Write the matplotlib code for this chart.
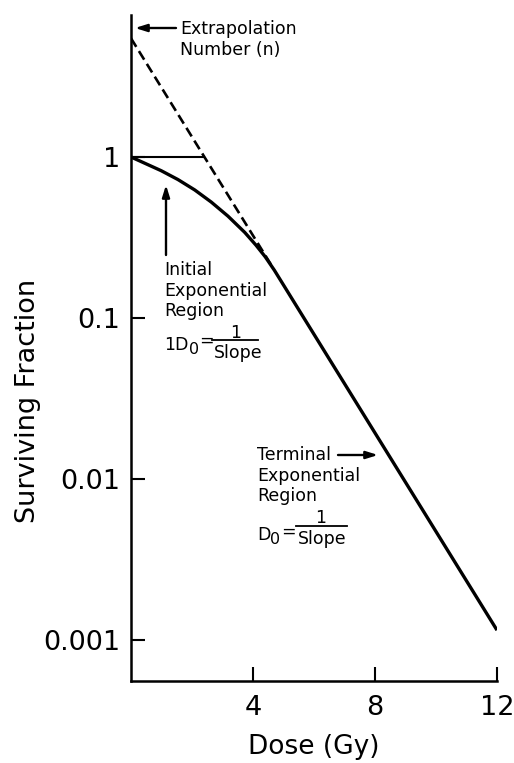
import matplotlib.pyplot as plt
from matplotlib.ticker import FixedLocator, NullLocator

W, H = 514, 763

# survival curve (dose in Gy, surviving fraction)
dose = [0, 0.56, 0.99, 1.54, 2.09, 2.63, 3.18, 3.73, 4.1, 4.4, 4.7, 12]
surv = [1.0, 0.895, 0.822, 0.724, 0.624, 0.525, 0.429, 0.340, 0.283, 0.240, 0.198, 0.00115]

# terminal slope extrapolated back to zero dose, and the n marker at S=1
extrap_dose = [0, 4.6]
extrap_surv = [5.46, 0.213]
n_dose = [0, 2.4]
n_surv = [1, 1]

xticks = [4, 8, 12]
yticks = [1, 0.1, 0.01, 0.001]
ytick_labels = ['1', '0.1', '0.01', '0.001']


def fp(x, y):
    # image pixel (from top-left) -> figure fraction
    return x / W, 1 - y / H


def fpx(x, y):
    # image pixel -> figure pixels
    return x, H - y


fig = plt.figure(figsize=(W / 100, H / 100), dpi=100)
ax = fig.add_axes([131 / W, 82 / H, 366 / W, 666 / H])

ax.plot(dose, surv, color='black', lw=2.4, solid_capstyle='butt')
ax.plot(extrap_dose, extrap_surv, color='black', lw=1.9, linestyle=(0, (3.8, 1.9)))
ax.plot(n_dose, n_surv, color='black', lw=1.5)

ax.set_yscale('log')
ax.set_xlim(0, 12)
ax.set_ylim(10 ** -3.255, 10 ** 0.882)

ax.xaxis.set_major_locator(FixedLocator(xticks))
ax.yaxis.set_major_locator(FixedLocator(yticks))
ax.yaxis.set_minor_locator(NullLocator())
ax.set_xticklabels([str(t) for t in xticks])
ax.set_yticklabels(ytick_labels)
ax.tick_params(axis='both', direction='in', length=10, width=1.5, labelsize=19.5, color='black')
ax.tick_params(axis='x', pad=10)
ax.tick_params(axis='y', pad=8)

for side in ['top', 'right']:
    ax.spines[side].set_visible(False)
for side in ['left', 'bottom']:
    ax.spines[side].set_linewidth(1.8)

fig.text(*fp(314, 754), 'Dose (Gy)', ha='center', va='baseline', fontsize=19)
fig.text(*fp(28, 401), 'Surviving Fraction', ha='center', va='center', rotation=90, fontsize=19.5)

fs = 12.5
arrow = dict(arrowstyle='-|>,head_length=0.7,head_width=0.22', lw=1.7, color='black',
             shrinkA=0, shrinkB=0)

# extrapolation number
fig.text(*fp(180, 34), 'Extrapolation', fontsize=fs, va='baseline')
fig.text(*fp(180, 55), 'Number (n)', fontsize=fs, va='baseline')
ax.annotate('', xy=fpx(135, 28), xytext=fpx(176, 28), xycoords='figure pixels',
            textcoords='figure pixels', arrowprops=arrow)

# initial region
ax.annotate('', xy=fpx(166, 185), xytext=fpx(166, 255), xycoords='figure pixels',
            textcoords='figure pixels', arrowprops=arrow)
for txt, yb in [('Initial', 275), ('Exponential', 296), ('Region', 316)]:
    fig.text(*fp(164, yb), txt, fontsize=fs, va='baseline')
fig.text(*fp(164, 350), '1D', fontsize=fs, va='baseline')
fig.text(*fp(189, 354), '0', fontsize=fs - 1, va='baseline')
fig.text(*fp(199, 346), '=', fontsize=fs, va='baseline')
fig.add_artist(plt.Line2D([212 / W, 258 / W], [1 - 340 / H, 1 - 340 / H], color='black', lw=1.3))
fig.text(*fp(236, 338), '1', fontsize=fs, va='baseline', ha='center')
fig.text(*fp(238, 358), 'Slope', fontsize=fs, va='baseline', ha='center')

# terminal region
fig.text(*fp(257, 460), 'Terminal', fontsize=fs, va='baseline')
ax.annotate('', xy=fpx(378, 455), xytext=fpx(338, 455), xycoords='figure pixels',
            textcoords='figure pixels', arrowprops=arrow)
for txt, yb in [('Exponential', 481), ('Region', 501)]:
    fig.text(*fp(257, yb), txt, fontsize=fs, va='baseline')
fig.text(*fp(257, 540), 'D', fontsize=fs, va='baseline')
fig.text(*fp(270, 544), '0', fontsize=fs - 1, va='baseline')
fig.text(*fp(281, 537), '=', fontsize=fs, va='baseline')
fig.add_artist(plt.Line2D([296 / W, 347 / W], [1 - 526 / H, 1 - 526 / H], color='black', lw=1.3))
fig.text(*fp(321, 523), '1', fontsize=fs, va='baseline', ha='center')
fig.text(*fp(322, 544), 'Slope', fontsize=fs, va='baseline', ha='center')

fig.savefig('out.png', dpi=100)
